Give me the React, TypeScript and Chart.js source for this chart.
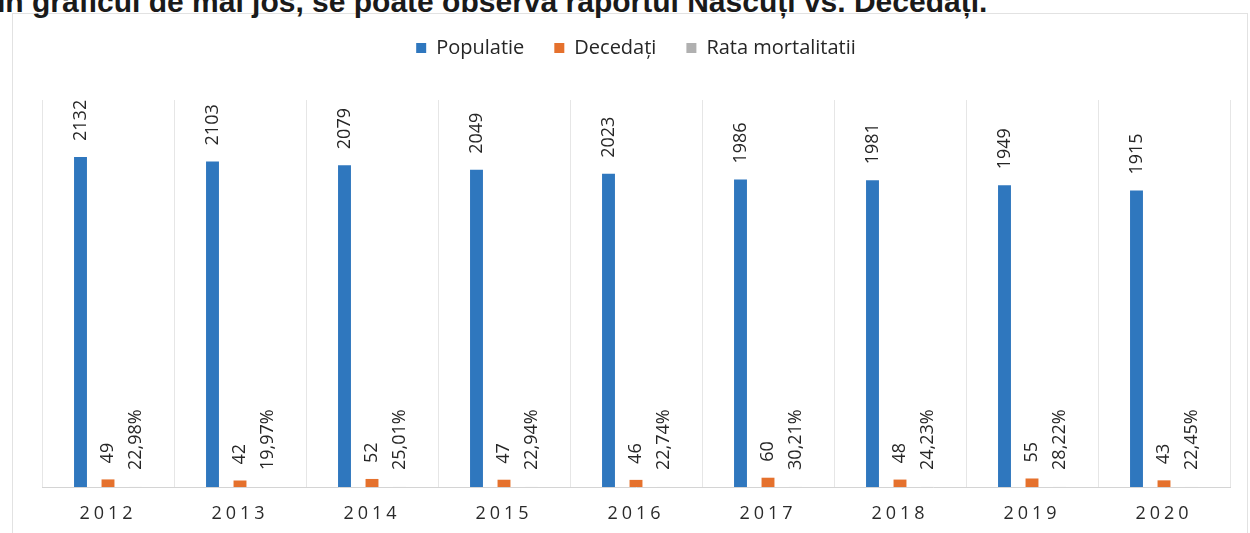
import React, { useEffect, useRef } from "react";
import { Chart, registerables } from "chart.js";

Chart.register(...registerables);

const years = ["2012", "2013", "2014", "2015", "2016", "2017", "2018", "2019", "2020"];
const populatie = [2132, 2103, 2079, 2049, 2023, 1986, 1981, 1949, 1915];
const decedati = [49, 42, 52, 47, 46, 60, 48, 55, 43];
const rataMortalitatii = [0.2298, 0.1997, 0.2501, 0.2294, 0.2274, 0.3021, 0.2423, 0.2822, 0.2245];
const seriesNames = ["Populatie", "Decedați", "Rata mortalitatii"];
const titleText = "În graficul de mai jos, se poate observa raportul Născuți vs. Decedați.";

const fmtPct = (v: number) => (v * 100).toFixed(2).replace(".", ",") + "%";

const legendSpacer = {
  id: "legendSpacer",
  beforeInit(chart: any) {
    const lg = chart.legend;
    if (lg && !lg._patched) {
      const orig = lg.fit;
      lg.fit = function () {
        orig.call(this);
        this.height += 32;
      };
      lg._patched = true;
    }
  },
};

const xLetterSpacing = {
  id: "xLetterSpacing",
  beforeDraw(chart: any) {
    const s = chart.scales.x;
    if (s && !s._lsPatched) {
      const orig = s.drawLabels.bind(s);
      s.drawLabels = (ca: any) => {
        const ctx = chart.ctx;
        const prev = ctx.letterSpacing;
        ctx.letterSpacing = "4px";
        orig(ca);
        ctx.letterSpacing = prev || "0px";
      };
      s._lsPatched = true;
    }
  },
};

const valueLabels = {
  id: "valueLabels",
  afterDatasetsDraw(chart: any) {
    const ctx = chart.ctx;
    chart.data.datasets.forEach((ds: any, di: number) => {
      const meta = chart.getDatasetMeta(di);
      meta.data.forEach((el: any, i: number) => {
        const v = ds.data[i];
        const txt = di === 2 ? fmtPct(v) : String(v);
        ctx.save();
        ctx.font = '18px "Open Sans"';
        ctx.fillStyle = "#262626";
        ctx.translate(el.x, el.y - (di === 2 ? 17 : 16));
        ctx.rotate(-Math.PI / 2);
        ctx.textAlign = "left";
        ctx.textBaseline = "middle";
        ctx.fillText(txt, 0, 0);
        ctx.restore();
      });
    });
  },
};

export default function App() {
  const ref = useRef<HTMLCanvasElement>(null);
  useEffect(() => {
    if (!ref.current) return;
    const chart = new Chart(ref.current, {
      type: "bar",
      data: {
        labels: years,
        datasets: [
          { label: seriesNames[0], data: populatie, backgroundColor: "#2F77BE" },
          { label: seriesNames[1], data: decedati, backgroundColor: "#E5712D" },
          { label: seriesNames[2], data: rataMortalitatii, backgroundColor: "#B0B0B0" },
        ],
      },
      options: {
        responsive: false,
        animation: false,
        maintainAspectRatio: false,
        layout: { padding: { left: 42, right: 20, top: 8, bottom: 8 } },
        datasets: { bar: { categoryPercentage: 0.625, barPercentage: 0.47 } } as any,
        plugins: {
          legend: {
            position: "top",
            labels: {
              font: { family: "Open Sans", size: 20 },
              color: "#262626",
              boxWidth: 10,
              boxHeight: 10,
              padding: 30,
            },
          },
          tooltip: { enabled: false },
        },
        scales: {
          x: {
            offset: true,
            grid: { display: true, offset: true, color: "#e6e6e6", drawTicks: false },
            border: { color: "#d4d4d4" },
            ticks: {
              font: { family: "Open Sans", size: 18 },
              color: "#2a2a2a",
              padding: 16,
              maxRotation: 0,
              autoSkip: false,
            },
            afterFit: (scale: any) => {
              scale.height = 38;
            },
          },
          y: { display: false, min: 0, max: 2500 },
        },
      },
      plugins: [legendSpacer, xLetterSpacing, valueLabels],
    });
    return () => chart.destroy();
  }, []);

  return (
    <div
      style={{
        position: "fixed",
        left: 0,
        top: 0,
        width: 1250,
        height: 533,
        overflow: "hidden",
        background: "#ffffff",
      }}
    >
      <div
        style={{
          position: "absolute",
          left: 12,
          top: 13,
          width: 1234,
          height: 540,
          border: "1px solid #e2e2e2",
        }}
      />
      <div
        style={{
          position: "absolute",
          left: -3,
          top: -13,
          fontFamily: '"Liberation Sans", Arial, sans-serif',
          fontWeight: "bold",
          fontSize: 30,
          lineHeight: "30px",
          color: "#1a1a1a",
          whiteSpace: "nowrap",
        }}
      >
        {titleText}
      </div>
      <canvas ref={ref} width={1250} height={533} style={{ position: "absolute", left: 0, top: 0 }} />
    </div>
  );
}
